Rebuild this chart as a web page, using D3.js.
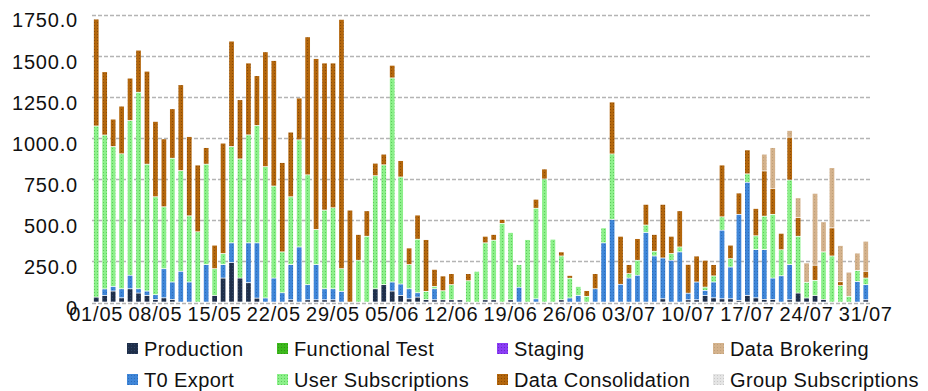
<!DOCTYPE html>
<html>
<head>
<meta charset="utf-8">
<script src="https://cdn.jsdelivr.net/npm/d3@7"></script>
<style>
  html, body { margin: 0; padding: 0; background: #fff; }
  svg { display: block; }
  text { font-family: "Liberation Sans", Arial, Helvetica, sans-serif; }
</style>
</head>
<body>
<svg id="chart" width="928" height="391"></svg>
<script>
// ---- Data ----
const days = d3.range(1, 93); // 1 May .. 31 July
const dateLabels = ["01/05","08/05","15/05","22/05","29/05","05/06","12/06","19/06","26/06","03/07","10/07","17/07","24/07","31/07"];
const yTicks = [0, 250, 500, 750, 1000, 1250, 1500, 1750];
const seriesNames = ["Production","T0 Export","Functional Test","User Subscriptions","Staging","Data Consolidation","Data Brokering","Group Subscriptions"];
const seriesColors = ["#1f2f4a","#3f86d8","#3cb81c","#8cf08a","#8a3cf5","#b3660c","#d4b28c","#e4e4e4"];
const seriesDots   = ["#2f4566","#2d6cb8","#2e9414","#5ccc5a","#6a28c8","#8a4a06","#bea07a","#c8c8c8"];

const production = [30,40,67,26,81,55,40,16,26,16,0,0,0,0,40,146,240,146,118,24,0,0,0,14,0,14,14,14,14,0,
  0,0,0,81,106,67,40,20,30,15,14,14,14,14,0,0,14,14,0,14,0,0,0,0,0,14,0,0,0,0,
  0,0,0,0,0,0,0,20,0,0,14,14,40,26,20,20,10,40,26,16,16,0,14,55,25,40,16,0,0,0,0,14];
const t0Export = [0,40,28,55,82,26,27,29,177,106,187,122,0,228,0,82,120,0,242,336,25,146,57,214,335,92,214,67,67,65,
  0,0,0,0,0,55,70,61,27,0,67,0,0,0,0,0,0,0,0,0,90,0,20,0,0,0,25,40,0,81,
  360,502,108,146,163,423,280,248,254,305,40,108,31,96,417,193,523,688,293,303,130,160,214,0,0,0,0,0,0,0,125,92];
const functionalTest = [0,0,0,0,0,0,0,0,0,0,0,0,0,0,0,0,0,0,0,0,0,0,0,0,0,0,0,0,0,0,
  0,0,0,0,0,0,0,0,0,0,0,0,0,0,0,0,0,0,0,0,0,0,0,0,0,0,0,0,0,0,
  0,0,0,0,0,0,0,0,0,0,0,0,0,0,0,0,0,0,0,0,0,0,0,0,0,0,0,0,0,0,0,0];
const userSubscriptions = [1040,935,850,820,940,1194,771,595,376,752,612,402,427,610,163,67,585,724,656,713,798,559,248,412,651,667,213,478,492,138,
  0,254,400,687,728,1240,650,147,325,50,14,55,92,0,130,187,346,362,478,409,138,380,550,748,382,266,120,55,35,0,
  91,398,0,27,91,45,29,0,41,30,0,0,20,37,81,51,0,51,84,203,387,158,514,345,95,92,289,280,100,35,67,40];
const staging = [0,0,0,0,0,0,0,0,0,0,0,0,0,0,0,0,0,0,0,0,0,0,0,0,0,0,0,0,0,0,
  0,0,0,0,0,0,0,0,0,0,0,0,0,0,0,0,0,0,0,0,0,0,0,0,0,0,0,0,0,0,
  0,0,0,0,0,0,0,0,0,0,0,0,0,0,0,0,0,0,0,0,0,0,0,0,0,0,0,0,0,0,0,0];
const dataConsolidation = [650,385,167,290,258,256,565,458,413,301,522,482,406,101,143,671,641,360,437,303,698,763,543,393,254,839,1039,894,880,1515,
  559,157,155,76,65,77,100,101,147,315,104,90,67,0,43,0,40,35,24,0,0,0,55,61,0,25,17,0,35,92,
  0,316,292,55,132,126,102,326,105,220,175,158,163,69,315,82,130,146,166,275,158,100,260,114,0,92,0,171,24,0,0,41];
const dataBrokering = [0,0,0,0,0,0,0,0,0,0,0,0,0,0,0,0,0,0,0,0,0,0,0,0,0,0,0,0,0,0,
  0,0,0,0,0,0,0,0,0,0,0,0,0,0,0,0,0,0,0,0,0,0,0,0,0,0,0,0,0,0,
  0,0,0,0,0,0,0,0,0,0,0,0,0,0,0,0,0,0,0,102,248,0,41,120,118,437,183,366,220,147,106,183];
const groupSubscriptions = [0,0,0,0,0,0,0,0,0,0,0,0,0,0,0,0,0,0,0,0,0,0,0,0,0,0,0,0,0,0,
  0,0,0,0,0,0,0,0,0,0,0,0,0,0,0,0,0,0,0,0,0,0,0,0,0,0,0,0,0,0,
  0,0,0,0,0,0,0,0,0,0,0,0,0,0,0,0,0,0,0,0,0,0,0,0,0,0,0,0,0,0,0,0];

const seriesValues = [production, t0Export, functionalTest, userSubscriptions, staging, dataConsolidation, dataBrokering, groupSubscriptions];

// ---- Build table for d3.stack ----
const table = days.map((d, i) => {
  const row = { day: d };
  seriesNames.forEach((n, k) => row[n] = seriesValues[k][i]);
  return row;
});
const stacked = d3.stack().keys(seriesNames)(table);

const svg = d3.select("#chart");
const margin = { left: 92, right: 58, top: 14.5, bottom: 88.5 };
const W = 928, H = 391;

const x = d3.scaleBand().domain(days).range([margin.left, W - margin.right]).paddingInner(0.44).paddingOuter(0.22);
const y = d3.scaleLinear().domain([0, 1750]).range([H - margin.bottom, margin.top]);

// patterns
const defs = svg.append("defs");
seriesNames.forEach((n, k) => {
  const p = defs.append("pattern").attr("id", "pat" + k).attr("patternUnits", "userSpaceOnUse")
    .attr("width", 3).attr("height", 3);
  p.append("rect").attr("width", 3).attr("height", 3).attr("fill", seriesColors[k]);
  p.append("rect").attr("x", 1).attr("y", 1).attr("width", 1).attr("height", 1).attr("fill", seriesDots[k]);
});

// gridlines
const grid = svg.append("g");
grid.selectAll("line").data(yTicks).join("line")
  .attr("x1", margin.left).attr("x2", W - margin.right)
  .attr("y1", d => Math.round(y(d)) + 0.5).attr("y2", d => Math.round(y(d)) + 0.5)
  .attr("stroke", "#b4b4b4").attr("stroke-width", 1.4).attr("stroke-dasharray", "4,2");

// bars
svg.append("g").selectAll("g").data(stacked).join("g")
  .attr("fill", (d, k) => "url(#pat" + k + ")")
  .selectAll("rect").data(d => d.filter(s => s[1] - s[0] > 0)).join("rect")
  .attr("x", s => x(s.data.day))
  .attr("width", x.bandwidth())
  .attr("y", s => y(s[1]))
  .attr("height", s => Math.max(0, y(s[0]) - y(s[1]) - 0.8))
  .attr("stroke", "none");

// y axis labels
const yAxis = d3.axisLeft(y).tickValues(yTicks).tickSize(0).tickPadding(0)
  .tickFormat(d => d === 0 ? "0" : d3.format(".1f")(d));
const ya = svg.append("g").attr("transform", `translate(${78},0)`).call(yAxis);
ya.select(".domain").remove();
ya.selectAll("text").attr("font-size", 20).attr("fill", "#111").attr("dy", "0.62em")
  .attr("letter-spacing", "0.8px")
  .attr("font-family", "'Liberation Sans', Arial, sans-serif");

// x axis labels
const labelDays = dateLabels.map((_, i) => 1 + i * 7);
const xAxis = d3.axisBottom(x).tickValues(labelDays).tickSize(0).tickPadding(0)
  .tickFormat((d, i) => dateLabels[i]);
const xa = svg.append("g").attr("transform", `translate(0,${H - margin.bottom})`).call(xAxis);
xa.select(".domain").remove();
xa.selectAll("text").attr("font-size", 20).attr("fill", "#111").attr("dy", "0.9em")
  .attr("letter-spacing", "0.8px")
  .attr("font-family", "'Liberation Sans', Arial, sans-serif");

// legend
const colX = [127, 277, 497, 713];
const rowY = [349, 380];
const legend = svg.append("g");
seriesNames.forEach((n, k) => {
  const col = Math.floor(k / 2), row = k % 2;
  const g = legend.append("g").attr("transform", `translate(${colX[col]},${rowY[row]})`);
  g.append("rect").attr("x", 0).attr("y", -6).attr("width", 11).attr("height", 11).attr("fill", "url(#pat" + k + ")");
  g.append("text").attr("x", 17).attr("y", 0).attr("dy", "0.35em").attr("font-size", 20)
    .attr("letter-spacing", "0.4px").attr("fill", "#111").text(n);
});
</script>
</body>
</html>
